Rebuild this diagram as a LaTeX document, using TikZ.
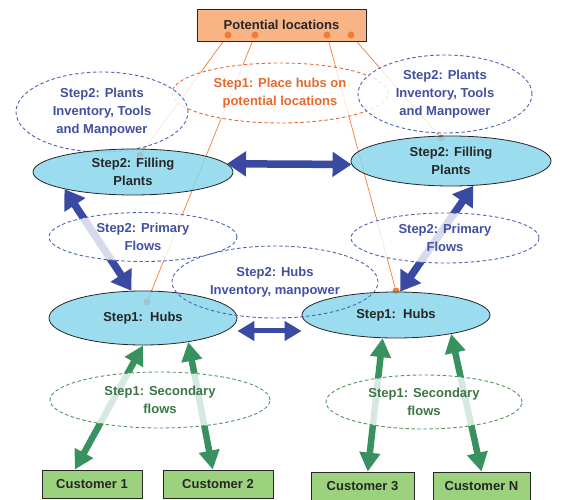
\documentclass[tikz,border=0pt]{standalone}
\usepackage{fontspec}
\setmainfont{Liberation Sans}
\usepackage{tikz}
\usetikzlibrary{arrows.meta,shapes.geometric}
\definecolor{locfill}{RGB}{248,180,132}
\definecolor{wireorange}{RGB}{240,125,55}
\definecolor{placeorange}{RGB}{232,105,45}
\definecolor{sitefill}{RGB}{138,214,236}
\definecolor{flowblue}{RGB}{58,74,162}
\definecolor{noteblue}{RGB}{78,98,180}
\definecolor{textblue}{RGB}{66,80,162}
\definecolor{flowgreen}{RGB}{56,146,96}
\definecolor{notegreen}{RGB}{78,150,90}
\definecolor{textgreen}{RGB}{58,118,70}
\definecolor{custfill}{RGB}{156,210,126}
\pgfdeclarelayer{back}
\pgfsetlayers{back,main}

\begin{document}
\begin{tikzpicture}[x=1pt,y=-1pt,font=\fontsize{13}{18}\selectfont\bfseries]
					\tikzstyle{box}=[rectangle,draw=black!85,line width=0.8pt,inner sep=0pt,text=black!85]
					\tikzstyle{site}=[ellipse,draw=black!85,line width=0.8pt,fill=sitefill,fill opacity=0.85,text opacity=1,inner sep=0pt,align=center,text=black!85]
					\tikzstyle{note}=[ellipse,dash pattern=on 3.5pt off 2.5pt,line width=0.9pt,fill=white,fill opacity=0.8,text opacity=1,inner sep=0pt,align=center]
					\tikzstyle{dot}=[circle,fill=wireorange,inner sep=0pt,minimum size=7pt]
					\tikzstyle{wire}=[draw=wireorange,line width=0.7pt]
					\tikzstyle{bflow}=[draw=flowblue,line width=7.5pt,>={Triangle[length=19pt,width=24pt]},<->]
					\tikzstyle{gflow}=[draw=flowgreen,line width=6.5pt,>={Triangle[length=19pt,width=20pt]},<->]
					\useasboundingbox (0,0) rectangle (566,500);
					\node[box,fill=locfill,minimum width=169,minimum height=32] (loc) at (281.5,25) {Potential locations};
					\node[dot] (d1) at (228,35) {};
					\node[dot] (d2) at (255,35) {};
					\node[dot] (d3) at (327,35) {};
					\node[dot] (d4) at (351,35) {};
					\node[note,draw=placeorange,text=placeorange,minimum width=216,minimum height=60] (place) at (280,93) {Step1: Place hubs on\\potential locations};
					\node[note,draw=noteblue,text=textblue,minimum width=172,minimum height=80] (inv1) at (102,112) {Step2: Plants\\Inventory, Tools\\and Manpower};
					\node[note,draw=noteblue,text=textblue,minimum width=174,minimum height=78] (inv2) at (445,94) {Step2: Plants\\Inventory, Tools\\and Manpower};
					\node[site,minimum width=200,minimum height=46] (fill1) at (133,172) {Step2: Filling\\Plants};
					\node[site,minimum width=200,minimum height=50] (fill2) at (451,161) {Step2: Filling\\Plants};
					\node[note,draw=noteblue,text=textblue,minimum width=188,minimum height=49] (prim1) at (143,237) {Step2: Primary\\Flows};
					\node[note,draw=noteblue,text=textblue,minimum width=188,minimum height=50] (prim2) at (445,238) {Step2: Primary\\Flows};
					\node[site,minimum width=188,minimum height=54] (hub1) at (143,318) {Step1:\ \ Hubs};
					\node[site,minimum width=188,minimum height=46] (hub2) at (396,315) {Step1:\ \ Hubs};
					\node[note,fill=none,draw=noteblue,text=textblue,minimum width=206,minimum height=72] (hubinv) at (275,282) {Step2: Hubs\\Inventory, manpower};
					\node[note,draw=notegreen,text=textgreen,minimum width=220,minimum height=56] (sec1) at (160,400) {Step1: Secondary\\flows};
					\node[note,draw=notegreen,text=textgreen,minimum width=196,minimum height=54] (sec2) at (424,402) {Step1: Secondary\\flows};
					\node[box,fill=custfill,minimum width=100,minimum height=28] (c1) at (92,484) {Customer 1};
					\node[box,fill=custfill,minimum width=110,minimum height=28] (c2) at (218,484) {Customer 2};
					\node[box,fill=custfill,minimum width=103,minimum height=28] (c3) at (362.5,486) {Customer 3};
					\node[box,fill=custfill,minimum width=97,minimum height=28] (cN) at (481.5,486) {Customer N};
					\begin{pgfonlayer}{back}
					\node[dot] (e1) at (140,155) {};
					\node[dot] (e2) at (147,302) {};
					\node[dot] (e3) at (396,291) {};
					\node[dot] (e4) at (441,138) {};
					\draw[wire] (d1) -- (e1);
					\draw[wire] (d2) -- (e2);
					\draw[wire] (d3) -- (e3);
					\draw[wire] (d4) -- (e4);
					\draw[bflow] (fill1.5) -- (fill2.182);
					\draw[bflow] (fill1.194) -- (hub1.113);
					\draw[bflow] (fill2.312) -- (hub2.80);
					\draw[bflow,line width=5pt,>={Triangle[length=17pt,width=19pt]}] ([yshift=-13pt]hub1.east) -- ([yshift=-16pt]hub2.west);
					\draw[gflow] (c1.140) -- (hub1.south);
					\draw[gflow] (c2.110) -- (hub1.332);
					\draw[gflow] (c3.70) -- (hub2.240);
					\draw[gflow] (cN.north) -- (hub2.341);
					\end{pgfonlayer}
\end{tikzpicture}
\end{document}
